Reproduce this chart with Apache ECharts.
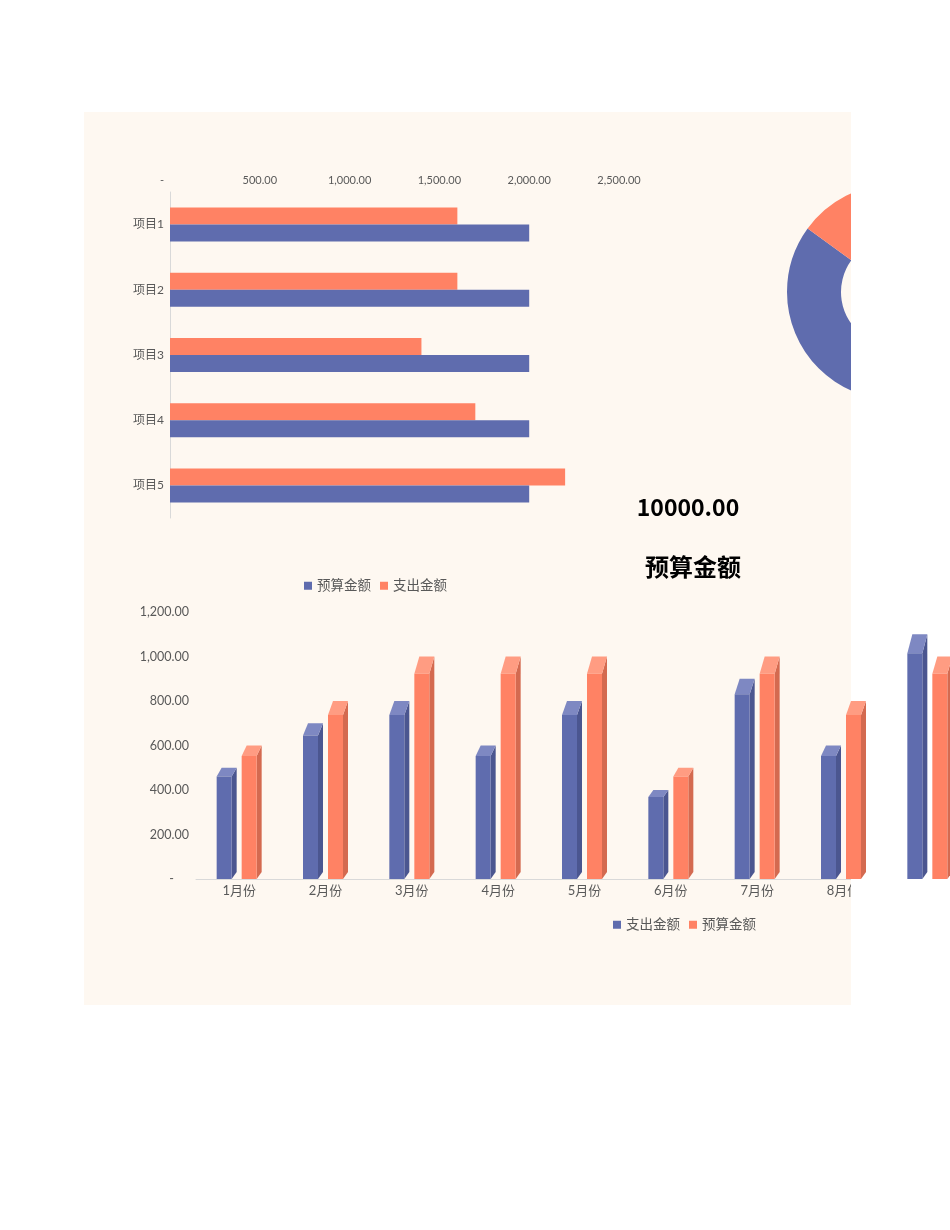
<!DOCTYPE html>
<html><head><meta charset="utf-8">
<script src="https://cdn.jsdelivr.net/npm/echarts@6/dist/echarts.min.js"></script>
<style>html,body{margin:0;padding:0;background:#fff}#c{width:950px;height:1230px}</style>
</head><body><div id="c"></div>
<script>
// ---- data ----
const projects = ['项目1', '项目2', '项目3', '项目4', '项目5'];
const projBudget = [2000, 2000, 2000, 2000, 2000];
const projSpend = [1600, 1600, 1400, 1700, 2200];
const donutNames = ['支出金额', '剩余金额'];
const donutValues = [8500, 1500];
const months = ['1月份', '2月份', '3月份', '4月份', '5月份', '6月份', '7月份', '8月份', '9月份'];
const monthSpend = [500, 700, 800, 600, 800, 400, 900, 600, 1100];
const monthBudget = [600, 800, 1000, 1000, 1000, 500, 1000, 800, 1000];
const totalLabel = '预算金额';

// ---- style ----
const BLUE = '#5F6CAE', BLUE_SIDE = '#4B5690', BLUE_TOP = '#7E88C2';
const ORANGE = '#FF8264', ORANGE_SIDE = '#D46A50', ORANGE_TOP = '#FF9C82';
const GRAY = '#595959', LINE = '#D9D9D9', CREAM = '#FEF8F1';
const FONT = 'Lato, "Noto Sans CJK SC", sans-serif';

function fmt(v) { return v.toLocaleString('en-US', {minimumFractionDigits: 2, maximumFractionDigits: 2}); }
const total = projBudget.reduce((a, b) => a + b, 0);

function make3D(front, side, top, offset) {
  return function (params, api) {
    const i = api.value(0), v = api.value(1);
    const b = api.coord([i, 0]);
    const t = api.coord([i, v]);
    const w = 15, d = 5;
    const xl = b[0] + offset, xr = xl + w;
    const y0 = b[1], yb = t[1];
    const yf = y0 - (y0 - yb) * 0.922;
    const yb0 = y0 - 7;
    return {
      type: 'group',
      children: [
        {type: 'polygon', shape: {points: [[xr, yf], [xr + d, yb], [xr + d, yb0], [xr, y0]]}, style: {fill: side}},
        {type: 'polygon', shape: {points: [[xl, yf], [xl + d, yb], [xr + d, yb], [xr, yf]]}, style: {fill: top}},
        {type: 'rect', shape: {x: xl, y: yf, width: w, height: y0 - yf}, style: {fill: front}}
      ]
    };
  };
}

const chart = echarts.init(document.getElementById('c'), null, {renderer: 'canvas'});
chart.setOption({
  backgroundColor: '#ffffff',
  animation: false,
  textStyle: {fontFamily: FONT},
  grid: [
    {left: 170, top: 192, width: 449, height: 326, outerBoundsMode: 'none', containLabel: false},
    {left: 196, top: 612, width: 777, height: 267, outerBoundsMode: 'none', containLabel: false}
  ],
  xAxis: [
    {
      type: 'value', gridIndex: 0, position: 'top', min: 0, max: 2500, interval: 500,
      axisLine: {show: false}, axisTick: {show: false}, splitLine: {show: false},
      axisLabel: {
        color: GRAY, fontSize: 11, fontFamily: FONT, margin: 6,
        formatter: v => v === 0 ? '{z|-}' : fmt(v),
        rich: {z: {padding: [0, 16, 0, 0], color: GRAY, fontSize: 11, fontFamily: FONT}}
      }
    },
    {
      type: 'category', gridIndex: 1, data: months,
      axisLine: {lineStyle: {color: LINE}}, axisTick: {show: false},
      axisLabel: {color: GRAY, fontSize: 13, fontFamily: FONT, margin: 5}
    }
  ],
  yAxis: [
    {
      type: 'category', gridIndex: 0, data: projects, inverse: true,
      axisLine: {lineStyle: {color: LINE}}, axisTick: {show: false},
      axisLabel: {color: GRAY, fontSize: 12, fontFamily: FONT, margin: 6}
    },
    {
      type: 'value', gridIndex: 1, min: 0, max: 1200, interval: 200,
      axisLine: {show: false}, axisTick: {show: false}, splitLine: {show: false},
      axisLabel: {
        color: GRAY, fontSize: 12.5, fontFamily: FONT, margin: 7,
        formatter: v => v === 0 ? '{z|-}' : fmt(v),
        rich: {z: {padding: [0, 15, 0, 0], color: GRAY, fontSize: 12.5, fontFamily: FONT}}
      }
    }
  ],
  legend: [
    {
      left: 299, top: 574, itemWidth: 8, itemHeight: 8, itemGap: 9, icon: 'rect',
      textStyle: {color: GRAY, fontSize: 13.5, fontFamily: FONT},
      data: [{name: '预算金额', itemStyle: {color: BLUE}}, {name: '支出金额', itemStyle: {color: ORANGE}}],
      selectedMode: false
    },
    {
      left: 608, top: 913, itemWidth: 8, itemHeight: 8, itemGap: 9, icon: 'rect',
      textStyle: {color: GRAY, fontSize: 13.5, fontFamily: FONT},
      data: [{name: '支出金额', itemStyle: {color: BLUE}}, {name: '预算金额', itemStyle: {color: ORANGE}}],
      selectedMode: false
    }
  ],
  graphic: [
    {type: 'rect', z: -1, shape: {x: 84, y: 112, width: 767, height: 893}, style: {fill: CREAM}},
    {type: 'rect', z: 1, shape: {x: 851, y: 0, width: 99, height: 1230}, style: {fill: '#ffffff'}},
    {type: 'text', z: 5, x: 688, y: 507, style: {text: total.toFixed(2), fontSize: 23, fontWeight: 'bold', fontFamily: '"Noto Sans CJK SC", sans-serif', fill: '#000', align: 'center', verticalAlign: 'middle'}},
    {type: 'text', z: 5, x: 693, y: 567, style: {text: totalLabel, fontSize: 24, fontWeight: 'bold', fontFamily: '"Noto Sans CJK SC", sans-serif', fill: '#000', align: 'center', verticalAlign: 'middle'}}
  ],
  series: [
    {
      name: '支出金额', type: 'bar', xAxisIndex: 0, yAxisIndex: 0, data: projSpend,
      barWidth: 17, barGap: '0%', itemStyle: {color: ORANGE}, z: 2
    },
    {
      name: '预算金额', type: 'bar', xAxisIndex: 0, yAxisIndex: 0, data: projBudget,
      barWidth: 17, barGap: '0%', itemStyle: {color: BLUE}, z: 2
    },
    {
      name: '支出金额', type: 'custom', xAxisIndex: 1, yAxisIndex: 1, z: 3,
      data: monthSpend.map((v, i) => [i, v]), encode: {x: 0, y: 1},
      itemStyle: {color: BLUE},
      renderItem: make3D(BLUE, BLUE_SIDE, BLUE_TOP, -22.5)
    },
    {
      name: '预算金额', type: 'custom', xAxisIndex: 1, yAxisIndex: 1, z: 3,
      data: monthBudget.map((v, i) => [i, v]), encode: {x: 0, y: 1},
      itemStyle: {color: ORANGE},
      renderItem: make3D(ORANGE, ORANGE_SIDE, ORANGE_TOP, 2.5)
    },
    {
      name: '完成情况', type: 'pie', z: 0, center: [895, 292], radius: [54, 108],
      startAngle: 90, clockwise: true, label: {show: false}, labelLine: {show: false},
      data: donutNames.map((n, i) => ({name: n, value: donutValues[i], itemStyle: {color: i === 0 ? BLUE : ORANGE}}))
    }
  ]
});
</script>
</body></html>
